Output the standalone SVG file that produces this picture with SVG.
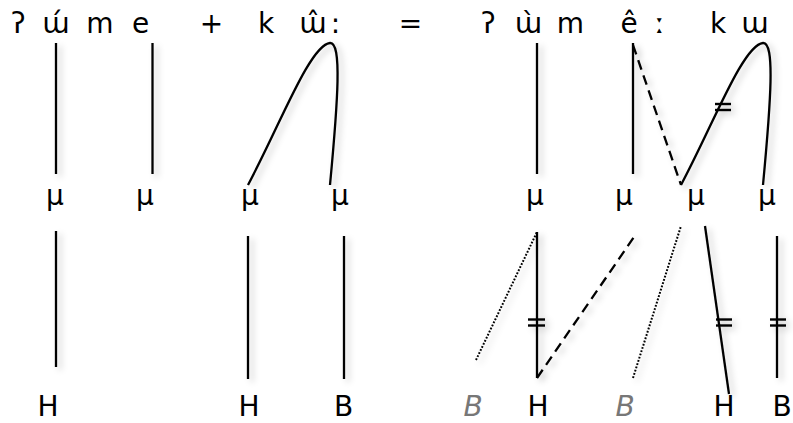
<svg xmlns="http://www.w3.org/2000/svg" width="793" height="423" viewBox="0 0 793 423">
<style>
text { font-family: "DejaVu Sans", "Liberation Sans", sans-serif; font-size: 28px; fill: #000; text-anchor: middle; }
.g { fill: #777; font-style: italic; }
.ln { stroke: #000; stroke-width: 2.3; fill: none; }
.dash { stroke-dasharray: 10 6; }
.dot { stroke-dasharray: 1.8 1.6; stroke-width: 2; }
.tick { stroke: #000; stroke-width: 2.4; }
</style>
<defs>
<filter id="sh" x="-20%" y="-20%" width="140%" height="140%">
<feDropShadow dx="4" dy="3" stdDeviation="3" flood-color="#000" flood-opacity="0.22"/>
</filter>
</defs>
<rect width="793" height="423" fill="#fff"/>
<g id="top-row">
<text x="18.5" y="33">ʔ</text>
<text x="56" y="33">ɯ́</text>
<text x="100" y="33">m</text>
<text x="140.5" y="33">e</text>
<text x="211.5" y="33">+</text>
<text x="266" y="33">k</text>
<text x="313" y="33">ɯ̂</text>
<text x="335.5" y="33">:</text>
<text x="410.5" y="33">=</text>
<text x="488.5" y="33">ʔ</text>
<text x="528.5" y="33">ɯ̀</text>
<text x="570.5" y="33">m</text>
<text x="629" y="33">ê</text>
<text x="660" y="33">ː</text>
<text x="718" y="33">k</text>
<text x="755" y="33">ɯ</text>
</g>
<g id="mora-row">
<text x="55" y="205">μ</text>
<text x="145" y="205">μ</text>
<text x="250" y="205">μ</text>
<text x="340" y="205">μ</text>
<text x="535" y="205">μ</text>
<text x="624" y="205">μ</text>
<text x="696" y="205">μ</text>
<text x="767" y="205">μ</text>
</g>
<g id="tone-row">
<text x="48" y="416">H</text>
<text x="249" y="416">H</text>
<text x="343.5" y="416">B</text>
<text class="g" x="473" y="416">B</text>
<text x="538" y="416">H</text>
<text class="g" x="625" y="416">B</text>
<text x="724" y="416">H</text>
<text x="782" y="416">B</text>
</g>
<g id="connectors" filter="url(#sh)">
<line class="ln" x1="56" y1="43" x2="56" y2="174"/>
<line class="ln" x1="152.5" y1="43" x2="152.5" y2="174"/>
<path class="ln" d="M248,185 C280,125 310,45 330,43 C342,42 338,100 330,185"/>
<line class="ln" x1="56" y1="231" x2="56" y2="367"/>
<line class="ln" x1="248" y1="236" x2="248" y2="379"/>
<line class="ln" x1="344" y1="236" x2="344" y2="379"/>
<line class="ln" x1="537" y1="43" x2="537" y2="174"/>
<line class="ln" x1="633" y1="43" x2="633" y2="174"/>
<line class="ln dash" x1="633" y1="45" x2="681" y2="185"/>
<path class="ln" d="M681,185 C713,125 743,45 763,43 C775,42 771,100 763,185"/>
<line class="tick" x1="715" y1="104" x2="731" y2="104"/>
<line class="tick" x1="715" y1="110" x2="731" y2="110"/>
<line class="ln dot" x1="476" y1="360" x2="537" y2="232"/>
<line class="ln" x1="537" y1="232" x2="537" y2="378"/>
<line class="tick" x1="528" y1="319.5" x2="545" y2="319.5"/>
<line class="tick" x1="528" y1="325.5" x2="545" y2="325.5"/>
<line class="ln dash" x1="537" y1="378" x2="634" y2="237"/>
<line class="ln dot" x1="633" y1="378" x2="681" y2="226"/>
<line class="ln" x1="705" y1="226" x2="729" y2="394"/>
<line class="tick" x1="716" y1="319.5" x2="732" y2="319.5"/>
<line class="tick" x1="716" y1="325.5" x2="732" y2="325.5"/>
<line class="ln" x1="777" y1="236" x2="777" y2="378"/>
<line class="tick" x1="770" y1="319.5" x2="786" y2="319.5"/>
<line class="tick" x1="770" y1="325.5" x2="786" y2="325.5"/>
</g>
</svg>
